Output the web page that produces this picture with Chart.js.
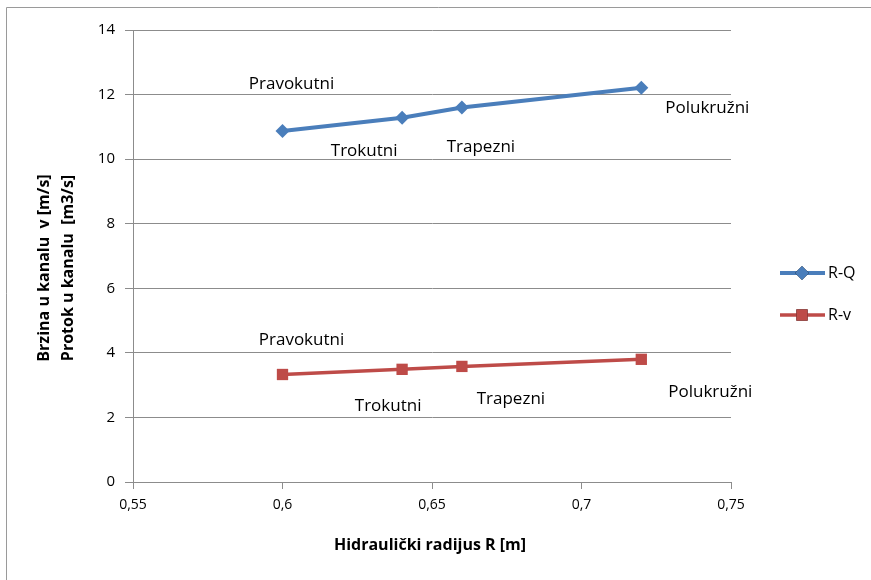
<!DOCTYPE html>
<html>
<head>
<meta charset="utf-8">
<script src="https://cdn.jsdelivr.net/npm/chart.js@4"></script>
<style>
    body { margin: 0; background: #fff; }
    #wrap { width: 871px; height: 580px; }
</style>
</head>
<body>
<div id="wrap"><canvas id="chart" width="871" height="580"></canvas></div>
<script>
// Chart data
const radius = [0.6, 0.64, 0.66, 0.72];
const flowQ = [10.87, 11.28, 11.6, 12.21];
const speedV = [3.33, 3.49, 3.58, 3.8];
const shapes = ['Pravokutni', 'Trokutni', 'Trapezni', 'Polukružni'];
const seriesNames = ['R-Q', 'R-v'];
const xTicks = [0.55, 0.6, 0.65, 0.7, 0.75];
const yTicks = [0, 2, 4, 6, 8, 10, 12, 14];

const FONT = '"Open Sans", sans-serif';
const colors = { q: '#4a7ebb', v: '#be4b48', grid: '#8c8c8c', text: '#000' };

// label offsets per point (dx, dy from the marker)
const labelOffsets = [
    [[9, -47], [-38, 33], [19, 40], [66, 20]],
    [[19, -34], [-14, 37], [49, 33], [69, 33]]
];

const toPoints = (ys) => radius.map((x, i) => ({ x: x, y: ys[i] }));

const extras = {
    id: 'extras',
    beforeDraw(chart) {
        const ctx = chart.ctx;
        ctx.save();
        ctx.fillStyle = '#fff';
        ctx.fillRect(0, 0, chart.width, chart.height);
        // outer frame (only left and top are visible in the picture)
        ctx.strokeStyle = '#9a9a9a';
        ctx.lineWidth = 1;
        ctx.beginPath();
        ctx.moveTo(6.5, 580);
        ctx.lineTo(6.5, 7.5);
        ctx.lineTo(871, 7.5);
        ctx.stroke();
        ctx.restore();
    },
    afterDraw(chart) {
        const ctx = chart.ctx;
        ctx.save();
        ctx.fillStyle = colors.text;
        ctx.textAlign = 'center';
        ctx.textBaseline = 'middle';

        // data labels
        ctx.font = '17px ' + FONT;
        chart.data.datasets.forEach((ds, di) => {
            const meta = chart.getDatasetMeta(di);
            meta.data.forEach((pt, i) => {
                const off = labelOffsets[di][i];
                ctx.fillText(shapes[i], pt.x + off[0], pt.y + off[1]);
            });
        });

        // axis titles
        ctx.font = 'bold 16px ' + FONT;
        ctx.fillText('Hidraulički radijus R [m]', 430, 545);
        ctx.save();
        ctx.translate(44, 268);
        ctx.rotate(-Math.PI / 2);
        ctx.fillText('Brzina u kanalu  v [m/s]', 0, 0);
        ctx.fillText('Protok u kanalu  [m3/s]', 0, 24);
        ctx.restore();

        // legend
        ctx.font = '16px ' + FONT;
        ctx.textAlign = 'left';
        chart.data.datasets.forEach((ds, di) => {
            const y = 273 + di * 42;
            ctx.strokeStyle = ds.borderColor;
            ctx.lineWidth = ds.borderWidth;
            ctx.beginPath();
            ctx.moveTo(780, y);
            ctx.lineTo(825, y);
            ctx.stroke();
            Chart.helpers.drawPoint(ctx, {
                pointStyle: ds.pointStyle,
                radius: ds.pointRadius,
                rotation: 0,
                borderWidth: 0
            }, 802, y);
            ctx.fillStyle = ds.backgroundColor;
            ctx.fill();
            ctx.fillStyle = colors.text;
            ctx.fillText(ds.label, 828, y);
        });
        ctx.restore();
    }
};

new Chart(document.getElementById('chart'), {
    type: 'line',
    data: {
        datasets: [
            {
                label: seriesNames[0],
                data: toPoints(flowQ),
                borderColor: colors.q,
                backgroundColor: colors.q,
                borderWidth: 4,
                pointStyle: 'rectRot',
                pointRadius: 7,
                pointBorderWidth: 0
            },
            {
                label: seriesNames[1],
                data: toPoints(speedV),
                borderColor: colors.v,
                backgroundColor: colors.v,
                borderWidth: 3.5,
                pointStyle: 'rect',
                pointRadius: 8,
                pointBorderWidth: 0
            }
        ]
    },
    options: {
        responsive: false,
        animation: false,
        layout: { padding: { top: 30, right: 140, left: 0, bottom: 0 } },
        plugins: { legend: { display: false }, tooltip: { enabled: false } },
        scales: {
            x: {
                type: 'linear',
                min: 0.55,
                max: 0.75,
                afterFit: (s) => { s.height = 98; },
                afterBuildTicks: (s) => { s.ticks = xTicks.map(v => ({ value: v })); },
                grid: { drawOnChartArea: false, drawTicks: true, tickLength: 7, color: colors.grid },
                border: { color: colors.grid, width: 1 },
                ticks: {
                    color: colors.text,
                    font: { family: FONT, size: 14 },
                    padding: 8,
                    maxRotation: 0,
                    callback: (v) => String(Math.round(v * 100) / 100).replace('.', ',')
                }
            },
            y: {
                min: 0,
                max: 14,
                afterFit: (s) => { s.width = 133; },
                afterBuildTicks: (s) => { s.ticks = yTicks.map(v => ({ value: v })); },
                grid: { color: colors.grid, tickLength: 8 },
                border: { color: colors.grid, width: 1 },
                ticks: {
                    color: colors.text,
                    font: { family: FONT, size: 15 },
                    padding: 10
                }
            }
        }
    },
    plugins: [extras]
});
</script>
</body>
</html>
